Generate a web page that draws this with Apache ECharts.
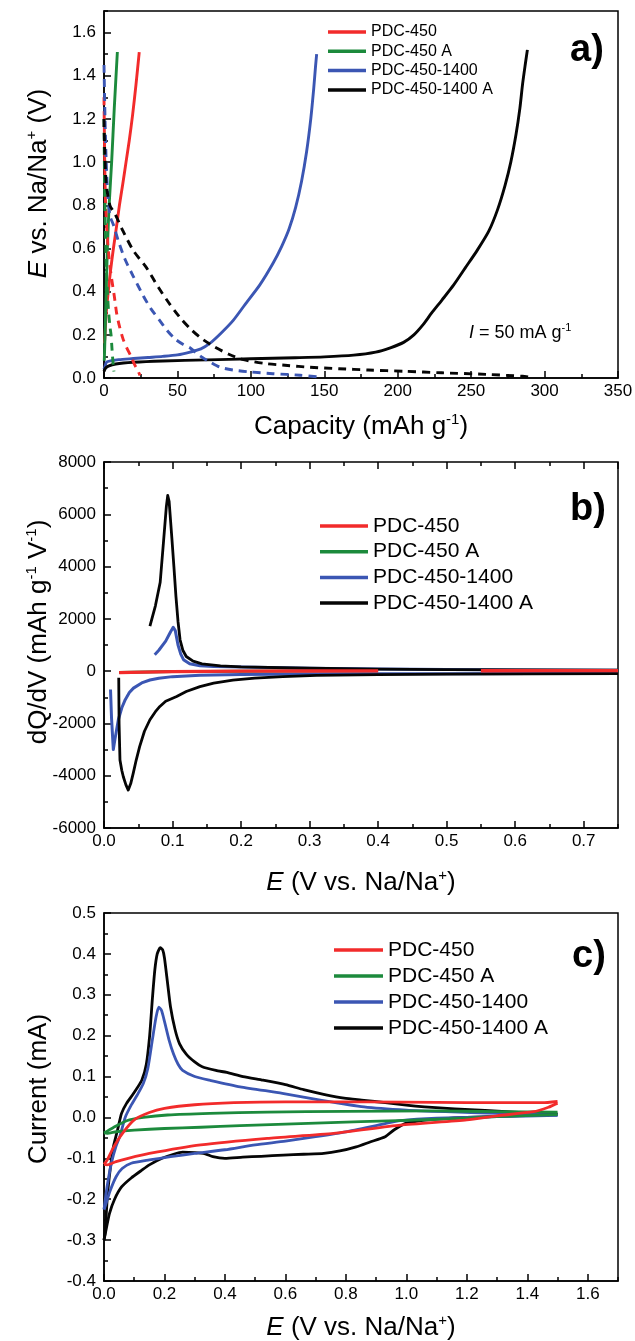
<!DOCTYPE html>
<html><head><meta charset="utf-8">
<script src="https://cdn.jsdelivr.net/npm/echarts@6/dist/echarts.min.js"></script>
<style>html,body{margin:0;padding:0;background:#fff}#c{width:635px;height:1341px}</style>
</head><body><div id="c"></div><script>
// ---------- DATA ----------
const names = ['PDC-450', 'PDC-450 A', 'PDC-450-1400', 'PDC-450-1400 A'];
const colors = ['#f22b2b', '#1c8a3c', '#3b56b3', '#050505'];

// Panel a: galvanostatic profiles [capacity mAh/g, E V]
const a_PDC450_charge = [[0.3,0.16],[0.7,0.2],[1.5,0.3],[2.9,0.4],[4.5,0.5],[6.4,0.6],[8.5,0.7],[10.5,0.8],[12.8,0.9],[15,1.0],[17.2,1.1],[19.5,1.22],[21.8,1.36],[24,1.51]];
const a_PDC450_discharge = [[0,1.3],[0.5,1.0],[1.1,0.8],[2,0.68],[3.5,0.55],[5.2,0.46],[7,0.38],[8.6,0.3],[10.5,0.24],[13,0.18],[15.5,0.14],[18.4,0.1],[21,0.06],[23,0.035],[24.5,0.012]];
const a_PDC450A_charge = [[0.2,0.08],[0.5,0.15],[0.8,0.22],[1.5,0.4],[2.3,0.6],[3.5,0.8],[5.2,1.0],[7,1.25],[9.1,1.51]];
const a_PDC450A_discharge = [[0,1.2],[0.4,0.9],[0.9,0.7],[1.5,0.52],[2.4,0.39],[3.2,0.3],[4.2,0.23],[4.8,0.2],[5.3,0.15],[5.8,0.1],[6.3,0.06],[6.8,0.03]];
const a_PDC4501400_charge = [[0,0.04],[0.5,0.05],[1.8,0.074],[5,0.08],[10,0.085],[20,0.09],[30,0.095],[40,0.1],[50,0.107],[58.6,0.12],[66,0.135],[72,0.16],[80,0.21],[88,0.267],[96,0.34],[106,0.43],[115,0.53],[121,0.61],[126,0.69],[130.5,0.79],[134.5,0.91],[138,1.05],[140.8,1.2],[142.8,1.34],[144,1.44],[144.8,1.5]];
const a_PDC4501400_discharge = [[0,1.45],[0.7,1.2],[1.5,1.0],[2.5,0.86],[4.1,0.75],[6.4,0.71],[10,0.63],[14.3,0.55],[20,0.47],[26.8,0.38],[32,0.32],[37.5,0.27],[43,0.22],[48.5,0.18],[54,0.155],[58.5,0.14],[63,0.115],[67,0.095],[72,0.075],[79,0.05],[88,0.037],[99.4,0.028],[115,0.02],[133.5,0.013],[145.7,0.005]];
const a_PDC4501400A_charge = [[0,0.03],[1,0.045],[3,0.055],[8,0.065],[20,0.073],[40,0.079],[70,0.084],[100,0.089],[130,0.094],[150,0.098],[170,0.106],[185,0.12],[195,0.14],[204,0.165],[211,0.2],[217,0.245],[223,0.3],[230,0.36],[238,0.43],[246,0.51],[254,0.59],[262,0.68],[268,0.78],[273,0.89],[277,1.0],[280.6,1.13],[283.2,1.25],[285,1.36],[286.8,1.45],[288.3,1.52]];
const a_PDC4501400A_discharge = [[0,1.2],[0.5,1.05],[1.5,0.9],[4,0.8],[7.5,0.76],[13,0.68],[20,0.59],[29,0.51],[37,0.42],[45,0.34],[53,0.27],[60,0.22],[66,0.185],[75,0.145],[85,0.11],[95,0.085],[110,0.067],[125,0.058],[140,0.05],[160,0.043],[180,0.037],[205,0.031],[230,0.024],[260,0.017],[285,0.008],[289,0.005]];

// Panel b: dQ/dV [E V, mAh g-1 V-1]
const b_PDC450 = [[0.022,-60],[0.04,-45],[0.06,-35],[0.1,-20],[0.15,-10],[0.2,0],[0.3,5],[0.4,10],[0.475,null],[0.55,15],[0.65,18],[0.75,20]];
const b_PDC450A = [[0.022,-55],[0.04,-42],[0.06,-33],[0.1,-18],[0.15,-9],[0.2,0],[0.3,5],[0.4,10],[0.475,null],[0.55,15],[0.65,18],[0.75,20]];
const b_PDC4501400_charge = [[0.074,630],[0.08,800],[0.09,1150],[0.097,1500],[0.101,1680],[0.104,1550],[0.108,1000],[0.112,650],[0.116,440],[0.125,280],[0.14,210],[0.16,180],[0.2,160],[0.3,110],[0.4,80],[0.5,60],[0.6,45],[0.75,30]];
const b_PDC4501400_discharge = [[0.0095,-700],[0.011,-1800],[0.0136,-3000],[0.016,-2600],[0.021,-1850],[0.026,-1400],[0.031,-1090],[0.037,-820],[0.043,-650],[0.055,-450],[0.067,-340],[0.08,-270],[0.1,-210],[0.14,-160],[0.2,-130],[0.3,-110],[0.4,-100],[0.5,-95],[0.75,-85]];
const b_PDC4501400A_charge = [[0.067,1720],[0.075,2500],[0.082,3400],[0.087,5000],[0.091,6300],[0.093,6720],[0.095,6500],[0.099,5100],[0.102,4000],[0.105,2850],[0.108,1900],[0.111,1200],[0.115,800],[0.12,560],[0.13,380],[0.143,280],[0.17,200],[0.2,160],[0.3,110],[0.4,80],[0.5,60],[0.75,40]];
const b_PDC4501400A_discharge = [[0.0215,-250],[0.022,-2000],[0.0233,-3400],[0.026,-3800],[0.0282,-4040],[0.032,-4350],[0.0354,-4550],[0.039,-4300],[0.0427,-3900],[0.047,-3400],[0.052,-2890],[0.059,-2300],[0.067,-1860],[0.075,-1550],[0.0815,-1350],[0.09,-1150],[0.106,-970],[0.12,-780],[0.14,-590],[0.16,-460],[0.188,-340],[0.22,-270],[0.261,-210],[0.31,-160],[0.4,-130],[0.5,-115],[0.75,-95]];

// Panel c: cyclic voltammetry [E V, current mA]
const c_PDC450_fwd = [[0,-0.115],[0.01,-0.105],[0.03,-0.075],[0.06,-0.04],[0.1,-0.006],[0.15,0.012],[0.2,0.022],[0.3,0.031],[0.43,0.036],[0.6,0.038],[0.87,0.038],[1.1,0.037],[1.3,0.036],[1.45,0.036],[1.5,0.039]];
const c_PDC450_rev = [[1.5,0.035],[1.47,0.025],[1.42,0.014],[1.3,0.004],[1.2,-0.006],[0.98,-0.019],[0.76,-0.039],[0.54,-0.051],[0.32,-0.067],[0.15,-0.088],[0.08,-0.1],[0.04,-0.108],[0.01,-0.116],[0,-0.115]];
const c_PDC450A_fwd = [[0,-0.038],[0.03,-0.025],[0.075,-0.008],[0.13,0.0],[0.21,0.006],[0.35,0.01],[0.54,0.013],[0.8,0.015],[1.09,0.016],[1.3,0.014],[1.5,0.013]];
const c_PDC450A_rev = [[1.5,0.007],[1.3,0.002],[1.09,-0.005],[0.85,-0.01],[0.65,-0.015],[0.45,-0.02],[0.32,-0.024],[0.2,-0.027],[0.1,-0.031],[0.04,-0.035],[0.01,-0.039],[0,-0.038]];
const c_PDC4501400_fwd = [[0,-0.225],[0.01,-0.17],[0.025,-0.11],[0.04,-0.07],[0.053,-0.045],[0.07,0.0],[0.09,0.03],[0.11,0.055],[0.13,0.083],[0.145,0.12],[0.16,0.19],[0.172,0.245],[0.181,0.27],[0.19,0.262],[0.2,0.235],[0.215,0.19],[0.23,0.155],[0.245,0.13],[0.26,0.115],[0.3,0.1],[0.35,0.091],[0.45,0.075],[0.59,0.059],[0.72,0.042],[0.86,0.026],[1.0,0.018],[1.13,0.014],[1.3,0.01],[1.5,0.006]];
const c_PDC4501400_rev = [[1.5,0.005],[1.3,0.002],[1.1,-0.002],[0.98,-0.008],[0.93,-0.015],[0.8,-0.035],[0.7,-0.047],[0.6,-0.058],[0.5,-0.067],[0.4,-0.079],[0.3,-0.088],[0.22,-0.096],[0.15,-0.104],[0.09,-0.112],[0.06,-0.125],[0.04,-0.145],[0.02,-0.18],[0.005,-0.215],[0,-0.225]];
const c_PDC4501400A_fwd = [[0,-0.3],[0.004,-0.28],[0.011,-0.194],[0.02,-0.13],[0.031,-0.072],[0.045,-0.03],[0.058,0.01],[0.075,0.035],[0.098,0.059],[0.125,0.091],[0.14,0.13],[0.151,0.2],[0.16,0.29],[0.168,0.36],[0.176,0.4],[0.186,0.415],[0.194,0.41],[0.2,0.39],[0.21,0.33],[0.22,0.27],[0.235,0.215],[0.25,0.18],[0.272,0.155],[0.3,0.136],[0.325,0.124],[0.37,0.115],[0.406,0.11],[0.46,0.1],[0.526,0.091],[0.6,0.08],[0.66,0.068],[0.73,0.056],[0.794,0.047],[0.86,0.042],[0.93,0.036],[1.0,0.03],[1.06,0.026],[1.16,0.021],[1.26,0.017],[1.4,0.011],[1.5,0.008]];
const c_PDC4501400A_rev = [[1.5,0.008],[1.35,0.004],[1.2,0.0],[1.08,-0.005],[1.0,-0.014],[0.96,-0.03],[0.93,-0.047],[0.88,-0.06],[0.834,-0.072],[0.78,-0.082],[0.727,-0.088],[0.66,-0.09],[0.593,-0.092],[0.52,-0.095],[0.459,-0.097],[0.4,-0.1],[0.36,-0.096],[0.335,-0.089],[0.3,-0.086],[0.26,-0.085],[0.23,-0.09],[0.192,-0.1],[0.15,-0.116],[0.125,-0.129],[0.09,-0.148],[0.058,-0.17],[0.035,-0.2],[0.018,-0.235],[0.008,-0.27],[0,-0.3]];

// ---------- CHART ----------
const FONT = '"Liberation Sans", Arial, sans-serif';
const chart = echarts.init(document.getElementById('c'), null, {renderer: 'canvas'});
const grids = [
  {left: 104, top: 11, width: 514, height: 367},
  {left: 104, top: 462, width: 514, height: 366},
  {left: 104, top: 913, width: 514, height: 368}
].map(g => Object.assign({show: true, borderColor: '#000', borderWidth: 1.5, backgroundColor: 'transparent', containLabel: false, outerBoundsMode: 'none'}, g));

const xAxes = [], yAxes = [], series = [];
const rich = {
  i: {fontStyle: 'italic', fontSize: 26, fontFamily: FONT, color: '#000', lineHeight: 30},
  s: {fontSize: 15, fontFamily: FONT, color: '#000', lineHeight: 14, verticalAlign: 'top'}
};
function mkAxis(g, pos, min, max, interval, tickLen, label, extra) {
  const o = {gridIndex: g, type: 'value', position: pos, min: min, max: max, interval: interval,
    axisLine: {show: !!label, onZero: false, lineStyle: {color: '#000', width: 1.5}},
    axisTick: {show: true, inside: true, length: tickLen, lineStyle: {color: '#000', width: 1.5}},
    axisLabel: label ? Object.assign({show: true, color: '#000', fontSize: 17, fontFamily: FONT, hideOverlap: false}, label) : {show: false},
    splitLine: {show: false}, minorTick: {show: false}, silent: true, nameMoveOverlap: false};
  if (extra) Object.assign(o, extra);
  return o;
}
function nameCfg(name, gap, rot, pad) {
  return {name: name, nameLocation: 'middle', nameGap: gap, nameRotate: rot,
    nameTextStyle: {fontSize: 26, fontFamily: FONT, color: '#000', lineHeight: 30, rich: rich, padding: pad || 0}};
}
function panel(g, X, Y, topTicks) {
  const xi = xAxes.length, yi = yAxes.length;
  xAxes.push(mkAxis(g, 'bottom', X.min, X.max, X.major, 7, {formatter: X.fmt, margin: 5, showMaxLabel: X.showMax, showMinLabel: true}, nameCfg(X.name, X.gap, 0)));
  xAxes.push(mkAxis(g, 'bottom', X.min, X.max, X.minor, 4, null));
  yAxes.push(mkAxis(g, 'left', Y.min, Y.max, Y.major, 7, {formatter: Y.fmt, margin: 8, showMaxLabel: Y.showMax, showMinLabel: true}, nameCfg(Y.name, Y.gap, 90, Y.pad)));
  yAxes.push(mkAxis(g, 'left', Y.min, Y.max, Y.minor, 4, null));
  if (topTicks) {
    xAxes.push(mkAxis(g, 'top', X.min, X.max, X.major, 7, null));
    xAxes.push(mkAxis(g, 'top', X.min, X.max, X.minor, 4, null));
  }
  return {xi: xi, yi: yi};
}
function addLine(ax, name, color, data, width, dashed, smooth) {
  series.push({type: 'line', name: name, color: color, xAxisIndex: ax.xi, yAxisIndex: ax.yi, data: data,
    showSymbol: false, symbol: 'none', silent: true, animation: false, connectNulls: false, clip: true,
    smooth: smooth || false,
    lineStyle: {color: color, width: width, type: dashed ? [8, 6] : 'solid', cap: 'butt', join: 'round'}});
}

const f1 = v => v.toFixed(1);
const axA = panel(0,
  {min: 0, max: 350, major: 50, minor: 25, fmt: v => String(v), showMax: true, name: 'Capacity (mAh g{s|-1})', gap: 34},
  {min: 0, max: 1.7, major: 0.2, minor: 0.1, fmt: f1, showMax: false, name: '{i|E} vs. Na/Na{s|+} (V)', gap: 50, pad: [0, 0, 0, 22]});
const axB = panel(1,
  {min: 0, max: 0.75, major: 0.1, minor: 0.05, fmt: f1, showMax: false, name: '{i|E} (V vs. Na/Na{s|+})', gap: 40},
  {min: -6000, max: 8000, major: 2000, minor: 1000, fmt: v => String(v), showMax: true, name: 'dQ/dV (mAh g{s|-1} V{s|-1})', gap: 50, pad: [0, 0, 0, 26]}, true);
const axC = panel(2,
  {min: 0, max: 1.7, major: 0.2, minor: 0.1, fmt: f1, showMax: false, name: '{i|E} (V vs. Na/Na{s|+})', gap: 32},
  {min: -0.4, max: 0.5, major: 0.1, minor: 0.05, fmt: f1, showMax: true, name: 'Current (mA)', gap: 50, pad: [0, 0, 0, 16]});

// panel a (solid first so legend uses solid style)
const aCharge = [a_PDC450_charge, a_PDC450A_charge, a_PDC4501400_charge, a_PDC4501400A_charge];
const aDis = [a_PDC450_discharge, a_PDC450A_discharge, a_PDC4501400_discharge, a_PDC4501400A_discharge];
for (let k = 0; k < 4; k++) addLine(axA, names[k], colors[k], aCharge[k], 2.9, false, 0.25);
for (let k = 0; k < 4; k++) addLine(axA, names[k], colors[k], aDis[k], 2.9, true, 0.25);

// panel b
addLine(axB, names[1], colors[1], b_PDC450A, 3, false);
addLine(axB, names[2], colors[2], b_PDC4501400_charge, 3, false);
addLine(axB, names[2], colors[2], b_PDC4501400_discharge, 3, false);
addLine(axB, names[3], colors[3], b_PDC4501400A_charge, 2.8, false);
addLine(axB, names[3], colors[3], b_PDC4501400A_discharge, 2.8, false);
addLine(axB, names[0], colors[0], b_PDC450, 3.3, false);

// panel c (each loop = forward + reverse branch)
const cFwd = [c_PDC450_fwd, c_PDC450A_fwd, c_PDC4501400_fwd, c_PDC4501400A_fwd];
const cRev = [c_PDC450_rev, c_PDC450A_rev, c_PDC4501400_rev, c_PDC4501400A_rev];
for (const k of [3, 2, 1, 0]) {
  addLine(axC, names[k], colors[k], cFwd[k], 2.8, false, 0.2);
  addLine(axC, names[k], colors[k], cRev[k], 2.8, false, 0.2);
}

function legend(left, top, size, lineH, gap, w) {
  return {show: true, data: names.slice(), orient: 'vertical', left: left, top: top, icon: 'rect',
    itemWidth: w, itemHeight: 3.5, itemGap: gap, padding: 0, selectedMode: false,
    itemStyle: {borderWidth: 0}, lineStyle: {type: 'solid'},
    textStyle: {fontSize: size, fontFamily: FONT, color: '#000', lineHeight: lineH, padding: 0}};
}

const option = {
  backgroundColor: '#fff',
  animation: false,
  textStyle: {fontFamily: FONT},
  grid: grids,
  xAxis: xAxes,
  yAxis: yAxes,
  legend: [legend(328, 22.5, 16, 19, 0.3, 38), legend(320, 513.5, 21, 25, 0.7, 48), legend(334, 937, 21, 26, 0, 49)],
  graphic: [
    {type: 'text', x: 570, y: 51, silent: true, style: {text: 'a)', font: 'bold 38px ' + FONT, fill: '#000', verticalAlign: 'middle'}},
    {type: 'text', x: 570, y: 510, silent: true, style: {text: 'b)', font: 'bold 38px ' + FONT, fill: '#000', verticalAlign: 'middle'}},
    {type: 'text', x: 572, y: 957, silent: true, style: {text: 'c)', font: 'bold 38px ' + FONT, fill: '#000', verticalAlign: 'middle'}},
    {type: 'text', x: 469, y: 333, silent: true, style: {text: '{i|I} = 50 mA g{s|-1}', fontSize: 18, fontFamily: FONT, fill: '#000', verticalAlign: 'middle', lineHeight: 22,
      rich: {i: {fontStyle: 'italic', fontSize: 18, fontFamily: FONT, fill: '#000', lineHeight: 22}, s: {fontSize: 11, fontFamily: FONT, fill: '#000', lineHeight: 10, verticalAlign: 'top'}}}}
  ],
  series: series
};
chart.setOption(option);
</script></body></html>
